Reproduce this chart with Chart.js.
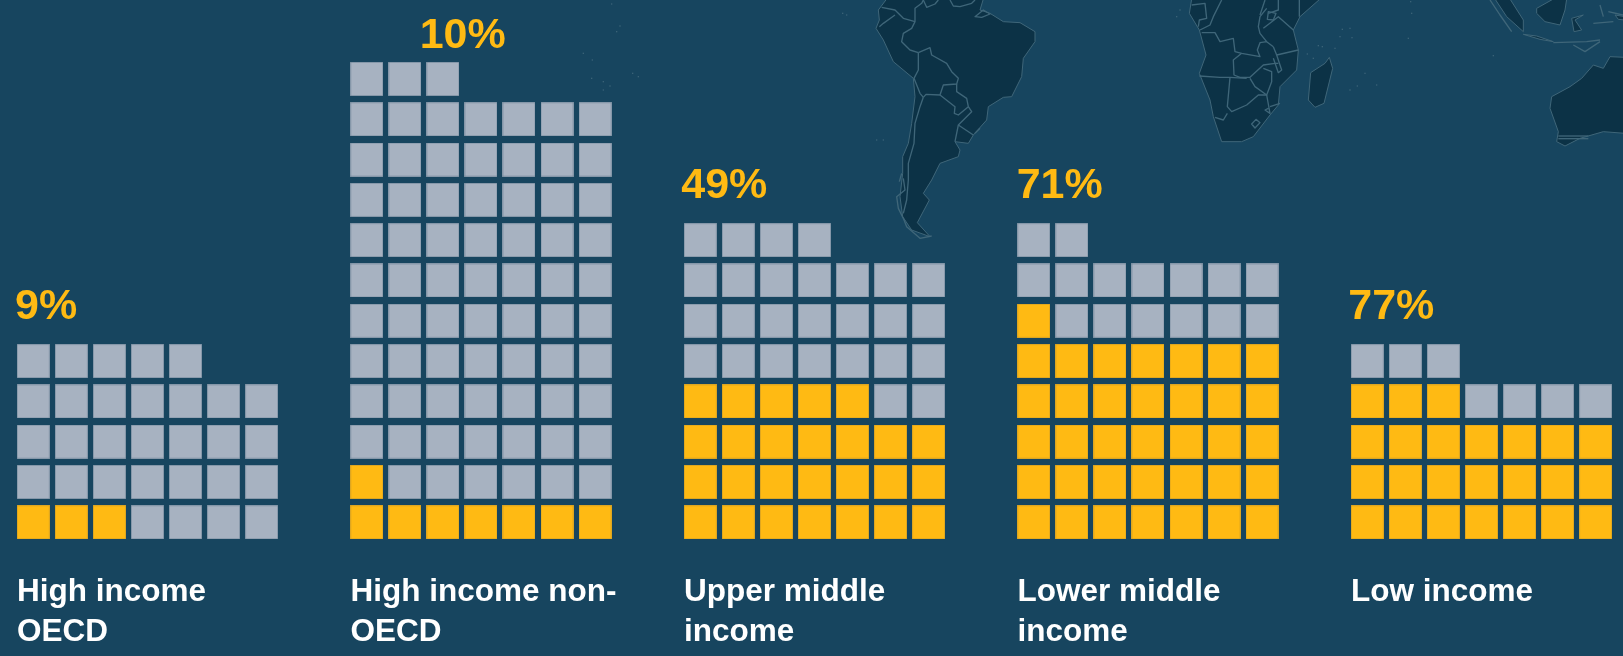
<!DOCTYPE html>
<html>
<head>
<meta charset="utf-8">
<style>
html,body{margin:0;padding:0;background:#17455F;overflow:hidden}
#wrap{position:relative;width:1623px;height:656px}
</style>
<script src="https://cdn.jsdelivr.net/npm/chart.js@4"></script>
</head>
<body>
<div id="wrap"><canvas id="c" width="1623" height="656"></canvas></div>
<script>
// ---- data ----
const categories = [["High income","OECD"],["High income non-","OECD"],["Upper middle","income"],["Lower middle","income"],["Low income"]];
const percentLabels = ["9%","10%","49%","71%","77%"];
const filledCells = [3,8,26,36,24];
const greyCells = [30,72,27,15,7];

// ---- layout / style ----
const PER_ROW = 7, GROUP_STEP = 8.765;
const BG = "#17455F", GOLD = "#FFBA13", GREY = "#A7B2C1";
const FONT = '"Liberation Sans", Arial, sans-serif';
const percentDx = [-0.48, 1.39, -0.5, -0.45, -0.5]; // label left, in cell units from the group's first column
const percentDy = [0.55, 0.27, 0.55, 0.55, 0.55];   // label baseline above top row's upper edge

function cellCanvas(fill, edge){
  const c = document.createElement("canvas"); c.width = 33; c.height = 34;
  const g = c.getContext("2d");
  g.fillStyle = edge; g.fillRect(0,0,33,34);
  g.fillStyle = fill; g.fillRect(0.6,0.6,31.8,32.8);
  return c;
}
function cells(groupIdx, from, count){
  const out = [];
  for(let i = from; i < from + count; i++){
    out.push({x: groupIdx*GROUP_STEP + (i % PER_ROW), y: Math.floor(i / PER_ROW)});
  }
  return out;
}
const goldPts = [], greyPts = [];
categories.forEach((_,g)=>{
  goldPts.push(...cells(g,0,filledCells[g]));
  greyPts.push(...cells(g,filledCells[g],greyCells[g]));
});

// ---- decorative map, traced in the coordinates of 3x crops ----
const landLayers = [
 {ox:840, oy:0, land:[
  "M140 -3L115 30L118 60L108 85L130 120L160 185L220 235L225 290L215 370L205 430L188 470L188 520L180 590L188 650L215 690L270 710L232 668L268 600L250 580L275 540L300 490L355 470L360 450L345 425L385 430L400 405L440 360L445 320L490 292L515 290L545 230L550 175L585 125L585 95L540 68L490 65L450 40L420 30L430 -3Z"
 ], lines:[
  "M125 22L165 30L190 55L225 65",
  "M118 80L130 70L165 45",
  "M250 0L245 10L225 25L225 65L215 85L190 100L185 125L210 150L235 158",
  "M235 158L235 210L222 235L240 280L250 292",
  "M235 158L270 143L275 165L320 190L335 215L355 235L350 252L310 255L300 285",
  "M250 292L258 283L300 285",
  "M350 252L350 275L380 295L385 320L355 345L343 340L345 320L300 285",
  "M250 292L240 320L225 370L222 430L205 490L205 540L200 600L190 640",
  "M385 320L395 335L355 375L345 425","M355 375L400 405",
  "M330 0L340 18L360 20L395 10L405 0","M250 0L260 22L285 12L295 0",
  "M405 50L430 30L450 42L425 52Z",
  "M185 520L178 545M190 535L195 570L170 590L175 625L190 655L200 680L240 715L275 708",
  "M420 385L405 400"
 ], dots:[[8,40],[20,45],[110,420],[130,420]]},
 {ox:1170, oy:0, land:[
  "M65 -3L58 40L88 90L108 165L88 220L120 300L130 350L155 425L215 425L250 410L300 345L325 315L330 260L380 210L385 150L370 90L390 50L450 -3Z",
  "M478 172L488 205L462 310L435 322L415 300L422 218L465 190Z",
  "M1365 172L1320 170L1300 205L1270 195L1235 235L1200 260L1145 290L1140 325L1165 395L1160 425L1185 438L1230 415L1300 395L1365 400Z",
  "M975 -3L1010 50L1060 95L1060 60L1020 -3Z",
  "M1060 103L1110 118L1150 125L1100 108Z",
  "M1100 25L1150 -3L1190 -3L1185 30L1170 75L1125 65L1100 40Z",
  "M1205 55L1240 45L1215 60L1235 90L1212 95Z",
  "M1335 45L1365 50L1365 60L1345 58Z"
 ], lines:[
  "M95 98L135 98L150 125L190 115L195 155L215 160L270 170L262 150L270 128L290 125L310 140",
  "M88 228L150 232L180 232L230 235",
  "M215 160L190 180L192 225L210 232L240 232L280 195L315 190L325 190",
  "M240 235L255 260L290 285L305 245L305 215L280 205",
  "M180 232L172 320L185 335L230 315L265 285L290 285",
  "M172 340L160 360L135 352",
  "M290 285L300 340L285 330L295 325","M300 320L330 310",
  "M310 140L320 165L385 150","M320 165L335 210L325 218L310 175",
  "M280 85L325 50L370 90",
  "M155 0L130 50L120 75L90 90","M65 15L105 10L110 55L88 60L85 80",
  "M290 25L270 50L265 80L270 100L290 125","M285 0L270 45","M325 0L325 30L295 40",
  "M388 0L388 50",
  "M245 372L258 358L270 368L255 384Z",
  "M295 35L318 40L310 60L292 58Z",
  "M1165 408L1255 408","M1165 416L1255 416",
  "M960 0L990 45L1025 95M1150 128L1250 125L1290 120","M1210 135L1245 155L1290 125",
  "M1290 15L1300 50M1270 70L1330 65M1315 35L1359 45"
 ], dots:[[20,50],[30,30],[517,88],[540,85],[510,110],[546,113],[445,137],[457,140],[495,145],[715,115],[722,5],[725,40],[970,167],[585,220],[540,270],[562,258],[620,255],[412,162],[430,175]]},
 {ox:340, oy:0, land:[], lines:[], dots:[[815,12],[840,78],[830,95],[730,160],[757,180],[755,235],[790,245],[810,258],[790,270],[878,220],[895,230]]}
];
const mapPlugin = {
  id:"mapBackdrop",
  beforeDraw(chart){
    const ctx = chart.ctx;
    ctx.save();
    ctx.fillStyle = BG; ctx.fillRect(0,0,chart.width,chart.height);
    landLayers.forEach(l=>{
      ctx.save();
      ctx.translate(l.ox,l.oy); ctx.scale(1/3,1/3);
      ctx.lineJoin = "round";
      l.land.forEach(p=>{
        const path = new Path2D(p);
        ctx.fillStyle = "#0C3246"; ctx.fill(path);
        ctx.strokeStyle = "#3F6679"; ctx.lineWidth = 3; ctx.stroke(path);
      });
      ctx.strokeStyle = "#3F6679"; ctx.lineWidth = 4;
      l.lines.forEach(p=>ctx.stroke(new Path2D(p)));
      ctx.fillStyle = "#3A6277";
      l.dots.forEach(d=>ctx.fillRect(d[0]-2,d[1]-2,4,4));
      ctx.restore();
    });
    ctx.restore();
  }
};
const percentPlugin = {
  id:"percentLabels",
  afterDatasetsDraw(chart){
    const {ctx, scales:{x,y}} = chart;
    ctx.save();
    ctx.fillStyle = GOLD;
    ctx.font = 'bold 43px ' + FONT;
    ctx.textAlign = "left"; ctx.textBaseline = "alphabetic";
    percentLabels.forEach((t,g)=>{
      const total = filledCells[g] + greyCells[g];
      const topRow = Math.floor((total-1)/PER_ROW);
      ctx.fillText(t, x.getPixelForValue(g*GROUP_STEP + percentDx[g]), y.getPixelForValue(topRow + 0.5 + percentDy[g]));
    });
    ctx.restore();
  }
};
const zeroPad = s => { s.paddingLeft = s.paddingRight = s.paddingTop = s.paddingBottom = 0; };

const chart = new Chart(document.getElementById("c"), {
  type:"scatter",
  data:{datasets:[
    {label:"Share", data:goldPts, pointStyle:cellCanvas(GOLD,"#C9992A"), pointRadius:17, pointHoverRadius:17},
    {label:"Rest", data:greyPts, pointStyle:cellCanvas(GREY,"#6F8699"), pointRadius:17, pointHoverRadius:17}
  ]},
  plugins:[mapPlugin, percentPlugin],
  options:{
    responsive:false, animation:false,
    layout:{padding:0, autoPadding:false},
    plugins:{legend:{display:false}, tooltip:{enabled:false}},
    scales:{
      x:{
        type:"linear", min:-0.875, max:41.78,
        grid:{display:false}, border:{display:false},
        afterBuildTicks(s){ s.ticks = categories.map((_,g)=>({value:g*GROUP_STEP-0.43})); },
        afterFit(s){ s.height = 86; zeroPad(s); },
        ticks:{
          autoSkip:false, maxRotation:0, minRotation:0, align:"start", padding:-5,
          color:"#FFFFFF",
          font:{family:FONT, size:31.5, weight:"bold", lineHeight:1.254},
          callback(v,i){ return categories[i]; }
        }
      },
      y:{ type:"linear", display:false, min:-1.184, max:12.96, afterFit:zeroPad }
    }
  }
});
</script>
</body>
</html>
